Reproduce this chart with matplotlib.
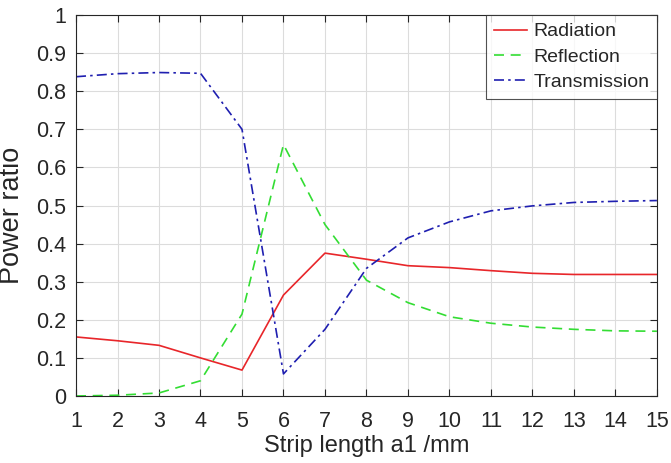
import matplotlib
matplotlib.use("Agg")
import matplotlib.pyplot as plt

x = list(range(1, 16))
radiation = [0.155, 0.145, 0.133, 0.100, 0.068, 0.265, 0.375, 0.359, 0.342, 0.337, 0.329, 0.322, 0.319, 0.319, 0.319]
reflection = [0.0, 0.002, 0.008, 0.040, 0.215, 0.660, 0.450, 0.304, 0.245, 0.208, 0.191, 0.181, 0.175, 0.171, 0.170]
transmission = [0.838, 0.846, 0.849, 0.847, 0.700, 0.058, 0.175, 0.335, 0.415, 0.457, 0.486, 0.499, 0.508, 0.511, 0.513]
xticks = list(range(1, 16))
yticks = [0, 0.1, 0.2, 0.3, 0.4, 0.5, 0.6, 0.7, 0.8, 0.9, 1]
ytick_labels = ["0", "0.1", "0.2", "0.3", "0.4", "0.5", "0.6", "0.7", "0.8", "0.9", "1"]

plt.rcParams['font.family'] = ['Liberation Sans', 'DejaVu Sans']
txt = '#262626'

fig = plt.figure(figsize=(6.71, 4.63), dpi=100)
ax = fig.add_axes([0.1133, 0.1447, 0.979 - 0.1133, 0.9676 - 0.1447])

ax.plot(x, radiation, color='#e8262a', lw=1.2, label='Radiation')
ax.plot(x, reflection, color='#33dd33', lw=1.2, ls=(0, (6, 4)), label='Reflection')
ax.plot(x, transmission, color='#1f1fb0', lw=1.2, ls=(0, (6, 2.5, 1.5, 2.5)), label='Transmission')

ax.set_xlim(1, 15)
ax.set_ylim(0, 1)
ax.set_xticks(xticks)
ax.set_yticks(yticks)
ax.set_yticklabels(ytick_labels)
ax.grid(True, color='#dcdcdc', lw=0.8)
ax.set_axisbelow(True)
ax.tick_params(direction='in', top=True, right=True, labelsize=15.5, colors=txt, length=5, width=0.8)
ax.tick_params(axis='x', pad=11)
ax.tick_params(axis='y', pad=7)
for s in ax.spines.values():
    s.set_color(txt)
    s.set_linewidth(0.8)

ax.set_xlabel('Strip length a1 /mm', fontsize=17, color=txt, labelpad=2)
ax.set_ylabel('Power ratio', fontsize=19.5, color=txt, labelpad=7)
ax.yaxis.set_label_coords(-0.0878, 0.475)

leg = ax.legend(loc='upper right', fontsize=14, frameon=True, fancybox=False,
                edgecolor='#262626', borderaxespad=0.0, handlelength=1.7,
                handletextpad=0.3, borderpad=0.4, labelspacing=0.4)
leg.get_frame().set_linewidth(0.8)
for t in leg.get_texts():
    t.set_color(txt)

fig.savefig('out.png', dpi=100)
